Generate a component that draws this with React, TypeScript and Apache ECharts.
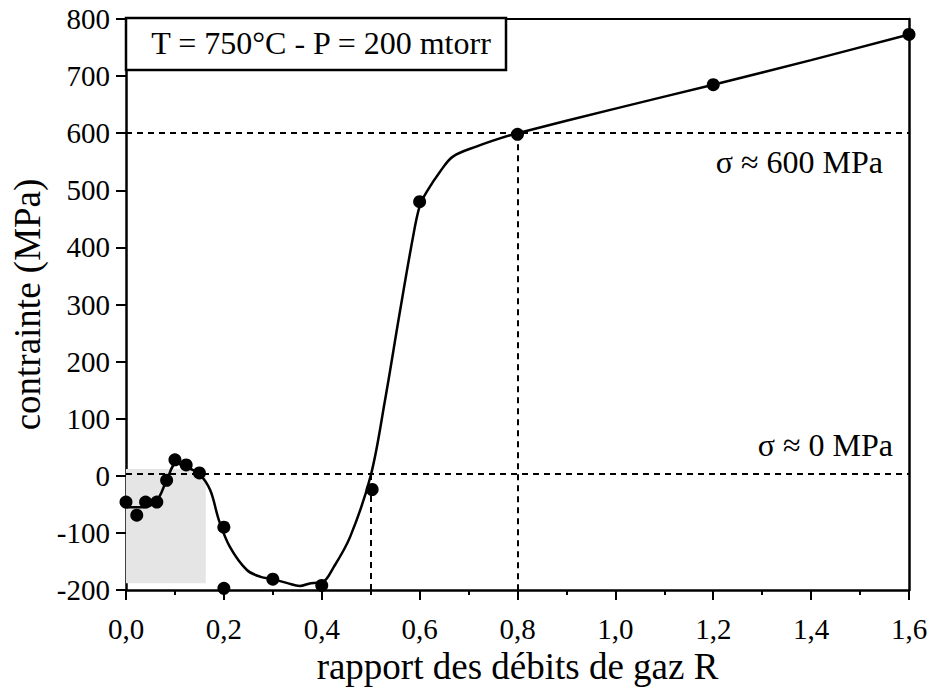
import React, { useEffect, useRef } from "react";
import * as echarts from "echarts";

// measured points (R, stress MPa)
const pointsR = [0, 0.022, 0.04, 0.063, 0.083, 0.1, 0.123, 0.15, 0.2, 0.2, 0.3, 0.4, 0.503, 0.6, 0.8, 1.2, 1.6];
const pointsS = [-46, -69, -46, -46, -8, 28, 19, 5, -90, -197, -181, -192, -24, 480, 598, 685, 773];

// fitted curve
const curveR = [0, 0.035, 0.063, 0.083, 0.103, 0.124, 0.15, 0.172, 0.19, 0.212, 0.247, 0.275, 0.3, 0.33, 0.355, 0.378, 0.4, 0.425, 0.458, 0.5, 0.529, 0.56, 0.586, 0.6, 0.615, 0.642, 0.668, 0.717, 0.764, 0.8, 1.0, 1.2, 1.4, 1.6];
const curveS = [-55, -55, -43, -8, 22, 15, 3, -25, -78, -124, -165, -177, -181, -188, -193, -188, -187, -159, -107, 0, 131, 289, 416, 472, 498, 533, 559, 577, 591, 600, 643, 685, 728, 773];

const xTicks = { min: 0, max: 1.6, interval: 0.2 };
const yTicks = { min: -200, max: 800, interval: 100 };

const refHigh = 600;
const refZero = 3;
const refR1 = 0.5;
const refR2 = 0.8;
const shadeR = [0, 0.163];
const shadeS = [-188, 12];

const boxLabel = "T = 750°C - P = 200 mtorr";
const label600 = "σ ≈ 600 MPa";
const label0 = "σ ≈ 0 MPa";
const xTitle = "rapport des débits de gaz R";
const yTitle = "contrainte (MPa)";

const FONT = "Liberation Serif";

export default function App() {
  const ref = useRef<HTMLDivElement>(null);
  useEffect(() => {
    if (!ref.current) return;
    const chart = echarts.init(ref.current, undefined, { renderer: "svg" });
    const dash = { color: "#000", width: 2, type: [6, 5] as any };
    chart.setOption({
      animation: false,
      backgroundColor: "#fff",
      textStyle: { fontFamily: FONT },
      grid: { left: 126, right: 23, top: 19, bottom: 101, containLabel: false },
      xAxis: [
        {
          type: "value",
          min: xTicks.min,
          max: xTicks.max,
          interval: xTicks.interval,
          position: "bottom",
          name: xTitle,
          nameLocation: "middle",
          nameGap: 44,
          nameTextStyle: { fontFamily: FONT, fontSize: 37, color: "#000" },
          axisLine: { show: true, onZero: false, lineStyle: { color: "#000", width: 2.5 } },
          axisTick: { show: true, inside: false, length: 10, lineStyle: { color: "#000", width: 2 } },
          minorTick: { show: true, splitNumber: 2, length: 5, lineStyle: { color: "#000", width: 2 } },
          axisLabel: {
            fontFamily: FONT,
            fontSize: 29,
            color: "#000",
            margin: 24,
            formatter: (v: number) => v.toFixed(1).replace(".", ","),
          },
          splitLine: { show: false },
        },
        {
          type: "value",
          min: xTicks.min,
          max: xTicks.max,
          position: "top",
          axisLine: { show: true, onZero: false, lineStyle: { color: "#000", width: 2 } },
          axisTick: { show: false },
          axisLabel: { show: false },
          splitLine: { show: false },
        },
      ],
      yAxis: [
        {
          type: "value",
          min: yTicks.min,
          max: yTicks.max,
          interval: yTicks.interval,
          position: "left",
          name: yTitle,
          nameLocation: "middle",
          nameGap: 78,
          nameRotate: 90,
          nameTextStyle: { fontFamily: FONT, fontSize: 37, color: "#000" },
          axisLine: { show: true, onZero: false, lineStyle: { color: "#000", width: 2.5 } },
          axisTick: { show: true, inside: false, length: 10, lineStyle: { color: "#000", width: 2 } },
          axisLabel: { fontFamily: FONT, fontSize: 29, color: "#000", margin: 16 },
          splitLine: { show: false },
        },
        {
          type: "value",
          min: yTicks.min,
          max: yTicks.max,
          position: "right",
          axisLine: { show: true, onZero: false, lineStyle: { color: "#000", width: 2.5 } },
          axisTick: { show: false },
          axisLabel: { show: false },
          splitLine: { show: false },
        },
      ],
      series: [
        {
          type: "line",
          data: curveR.map((r, i) => [r, curveS[i]]),
          smooth: 0.35,
          showSymbol: false,
          symbol: "none",
          lineStyle: { color: "#000", width: 2.5 },
          z: 3,
          markArea: {
            silent: true,
            itemStyle: { color: "#e5e5e5" },
            data: [[{ coord: [shadeR[0], shadeS[0]] }, { coord: [shadeR[1], shadeS[1]] }]],
          },
          markLine: {
            silent: true,
            symbol: "none",
            label: { show: false },
            lineStyle: dash,
            data: [
              [{ coord: [xTicks.min, refHigh] }, { coord: [xTicks.max, refHigh] }],
              [{ coord: [xTicks.min, refZero] }, { coord: [xTicks.max, refZero] }],
              [{ coord: [refR1, refZero] }, { coord: [refR1, yTicks.min] }],
              [{ coord: [refR2, refHigh] }, { coord: [refR2, yTicks.min] }],
            ],
          },
        },
        {
          type: "scatter",
          data: pointsR.map((r, i) => [r, pointsS[i]]),
          symbol: "circle",
          symbolSize: 13,
          itemStyle: { color: "#000", opacity: 1 },
          z: 4,
        },
      ],
      graphic: [
        {
          type: "rect",
          shape: { x: 126, y: 18, width: 380, height: 52 },
          style: { fill: "#fff", stroke: "#000", lineWidth: 2.5 },
          z: 10,
        },
        {
          type: "text",
          x: 321,
          y: 43,
          style: { text: boxLabel, fontFamily: FONT, fontSize: 32, fill: "#000", align: "center", verticalAlign: "middle" },
          z: 11,
        },
        {
          type: "text",
          x: 883,
          y: 162,
          style: { text: label600, fontFamily: FONT, fontSize: 32, fill: "#000", align: "right", verticalAlign: "middle" },
          z: 11,
        },
        {
          type: "text",
          x: 893,
          y: 445,
          style: { text: label0, fontFamily: FONT, fontSize: 32, fill: "#000", align: "right", verticalAlign: "middle" },
          z: 11,
        },
      ],
    });
    return () => chart.dispose();
  }, []);
  return (
    <div
      ref={ref}
      style={{ position: "fixed", left: 0, top: 0, width: 932, height: 691, background: "#fff" }}
    />
  );
}
